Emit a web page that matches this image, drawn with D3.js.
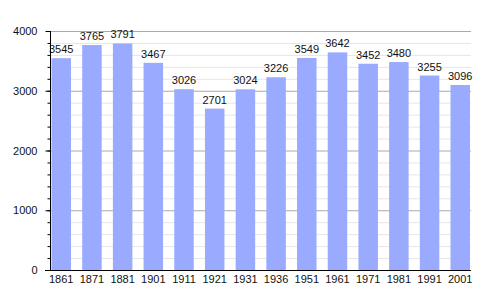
<!DOCTYPE html>
<html>
<head>
<meta charset="utf-8">
<script src="https://cdn.jsdelivr.net/npm/d3@7"></script>
<style>
  body { margin: 0; background: #fff; }
  text { font-family: "Liberation Sans", Arial, sans-serif; font-size: 11px; fill: #111; }
</style>
</head>
<body>
<div id="chart"></div>
<script>
const years = ['1861', '1871', '1881', '1901', '1911', '1921', '1931', '1936', '1951', '1961', '1971', '1981', '1991', '2001'];
const population = [3545, 3765, 3791, 3467, 3026, 2701, 3024, 3226, 3549, 3642, 3452, 3480, 3255, 3096];
const yTicks = [0, 1000, 2000, 3000, 4000];

const width = 500;
const height = 300;
const plotLeft = 50, plotRight = 471, plotTop = 31, plotBottom = 270;

const svg = d3.select('#chart')
  .append('svg')
  .attr('width', width)
  .attr('height', height);

const x = d3.scaleBand()
  .domain(years)
  .range([plotLeft + 1.5, plotRight - 1])
  .paddingInner(0.365)
  .paddingOuter(0);

const y = d3.scaleLinear()
  .domain([0, 4000])
  .range([plotBottom, plotTop]);

// minor grid every 200
svg.append('g')
  .selectAll('line')
  .data(d3.range(200, 4000, 200).filter(v => v % 1000 !== 0))
  .enter().append('line')
  .attr('x1', plotLeft).attr('x2', plotRight)
  .attr('y1', d => y(d) + 0.5).attr('y2', d => y(d) + 0.5)
  .attr('stroke', '#e6e6e6');

// major grid
svg.append('g')
  .selectAll('line')
  .data(yTicks.slice(1))
  .enter().append('line')
  .attr('x1', plotLeft).attr('x2', plotRight)
  .attr('y1', d => y(d) + 0.5).attr('y2', d => y(d) + 0.5)
  .attr('stroke', '#aaaaaa');

svg.selectAll('.bar')
  .data(population)
  .enter().append('rect')
  .attr('class', 'bar')
  .attr('x', (d, i) => x(years[i]))
  .attr('y', d => y(d))
  .attr('width', x.bandwidth())
  .attr('height', d => plotBottom - y(d))
  .attr('fill', '#99aaff');

svg.selectAll('.val')
  .data(population)
  .enter().append('text')
  .attr('class', 'val')
  .attr('x', (d, i) => x(years[i]) + x.bandwidth() / 2)
  .attr('y', d => y(d) - 5)
  .attr('text-anchor', 'middle')
  .text(d => d);

// y axis with minor ticks
const yAxis = svg.append('g')
  .attr('transform', 'translate(' + (plotLeft + 0.5) + ',0)');

yAxis.append('g')
  .call(d3.axisLeft(y).tickValues(d3.range(0, 4001, 200)).tickSize(3).tickFormat(''))
  .call(g => g.select('.domain').remove());

yAxis.append('g')
  .call(d3.axisLeft(y).tickValues(yTicks).tickSize(5).tickPadding(8).tickFormat(d3.format('d')))
  .call(g => g.select('.domain').remove())
  .call(g => g.selectAll('text').style('font-size', '11px').style('font-family', '"Liberation Sans", Arial, sans-serif'));

yAxis.append('line')
  .attr('y1', plotTop).attr('y2', plotBottom)
  .attr('stroke', '#000');

// x axis
svg.append('line')
  .attr('x1', plotLeft - 5).attr('x2', plotRight)
  .attr('y1', plotBottom + 0.5).attr('y2', plotBottom + 0.5)
  .attr('stroke', '#000');

svg.append('g')
  .selectAll('text')
  .data(years)
  .enter().append('text')
  .attr('x', d => x(d) + x.bandwidth() / 2)
  .attr('y', plotBottom + 13)
  .attr('text-anchor', 'middle')
  .text(d => d);
</script>
</body>
</html>
